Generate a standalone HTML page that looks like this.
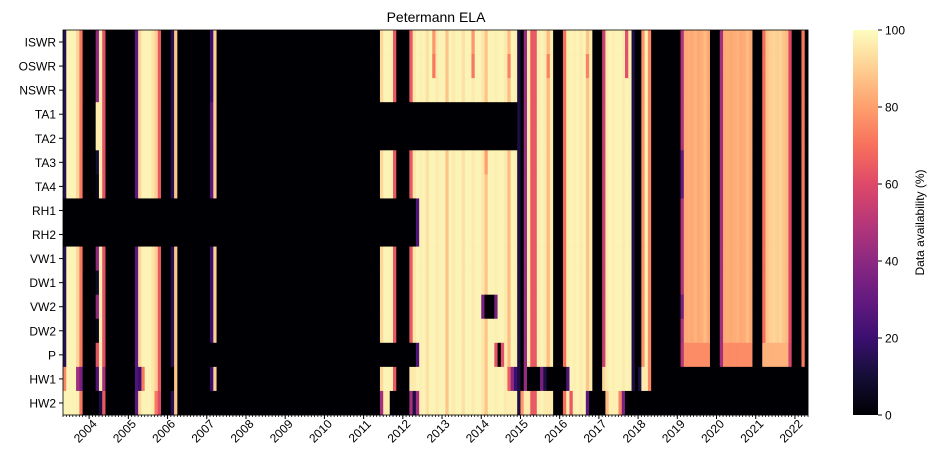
<!DOCTYPE html>
<html><head><meta charset="utf-8">
<style>
html,body{margin:0;padding:0;background:#fff;}
svg{display:block;font-family:"Liberation Sans","DejaVu Sans",sans-serif;}
</style></head>
<body>
<svg id="chart" width="938" height="470" viewBox="0 0 938 470" xmlns="http://www.w3.org/2000/svg">
<text x="436" y="22" font-size="14" text-anchor="middle" fill="#000">Petermann ELA</text>
<g id="cells"></g>
<g id="axes"></g>
<defs><linearGradient id="cbg" x1="0" y1="1" x2="0" y2="0"></linearGradient></defs>
<g id="cbar"></g>
</svg>
<script>
const rowLabels = ["ISWR","OSWR","NSWR","TA1","TA2","TA3","TA4","RH1","RH2","VW1","DW1","VW2","DW2","P","HW1","HW2"];
const startYear = 2003, startMonth = 5; // first column = May 2003
const yearTicks = [2004,2005,2006,2007,2008,2009,2010,2011,2012,2013,2014,2015,2016,2017,2018,2019,2020,2021,2022];
const cbarTicks = [0,20,40,60,80,100];
// base monthly availability (%) shared by most variables
const baseMonths = [
15,98,98,98,92,72,0,0,0,0,40,96,62,0,0,0,0,0,0,0,0,0,28,92,98,98,98,95,90,64,0,0,0,15,88,0,0,0,0,0,0,0,0,0,0,20,90,
0,0,0,0,0,0,0,0,0,0,0,0,0,0,0,0,0,0,0,0,0,0,0,0,0,0,0,0,0,0,0,0,0,0,0,0,0,0,0,0,0,0,0,0,0,0,0,0,0,0,
92,98,98,97,64,0,0,0,0,64,
95,98,97,98,94,98,98,96,98,98,88,98,96,98,98,94,98,98,96,98,98,95,88,98,98,97,98,98,96,86,98,97,
12,0,42,96,64,64,97,98,96,86,96,0,0,0,70,96,98,97,98,96,98,88,96,0,0,0,55,
96,98,97,98,98,96,98,97,12,0,0,78,97,76,0,0,0,0,0,0,0,0,0,48,
82,83,82,84,82,83,86,82,0,0,0,45,82,83,82,83,84,82,83,86,82,0,0,0,70,88,90,91,90,91,88,86,60,0,0,0,72,0
];
// per-variable overrides: [row, firstMonthIndex, lastMonthIndex, value]
const overrides = [
[0,113,113,78],[0,125,125,78],[0,172,172,62],
[1,113,113,72],[1,125,125,72],[1,136,136,74],[1,148,148,74],[1,160,160,74],[1,172,172,62],
[3,10,10,96],[3,45,45,28],[3,97,138,0],
[4,10,10,96],[4,45,45,28],[4,97,138,0],
[5,10,10,10],[5,45,45,28],[5,129,129,80],[5,189,189,30],
[6,10,10,4],[6,45,45,28],[6,189,189,30],
[7,0,107,0],[7,108,108,25],
[8,0,107,0],[8,108,108,25],
[10,10,10,8],
[11,128,128,35],[11,129,131,0],[11,132,132,35],[11,189,189,35],
[12,10,10,4],
[13,10,10,62],[13,45,46,0],[13,97,107,0],[13,108,108,25],[13,132,132,62],[13,133,133,0],[13,134,134,62],
[13,189,189,50],[13,190,197,76],[13,202,210,76],[13,214,221,84],[13,222,222,58],
[14,0,0,75],[14,4,4,45],[14,5,5,35],[14,10,10,25],[14,12,12,45],[14,22,22,25],[14,23,23,20],[14,24,24,72],[14,33,33,0],
[14,106,107,96],[14,136,136,65],[14,137,137,40],[14,138,138,20],[14,139,139,12],[14,140,140,0],[14,141,141,42],
[14,142,145,0],[14,146,146,35],[14,147,147,12],[14,148,153,0],[14,154,154,25],[14,165,165,92],
[14,174,174,12],[14,175,175,0],[14,176,176,12],[14,177,178,96],[14,179,179,75],[14,180,227,0],
[15,0,0,98],[15,4,4,98],[15,10,10,0],[15,11,11,12],[15,12,12,64],[15,27,27,96],[15,28,28,72],[15,29,29,60],
[15,45,46,0],[15,97,97,45],[15,98,99,96],[15,100,105,0],[15,106,106,45],[15,107,107,12],[15,108,108,45],
[15,136,138,97],[15,139,139,12],[15,140,140,78],[15,141,142,96],[15,148,148,96],[15,155,155,64],
[15,160,160,28],[15,161,165,0],[15,166,166,86],[15,167,169,97],[15,170,170,75],[15,171,171,35],[15,172,227,0]
];

const NS="http://www.w3.org/2000/svg";
const plotL=63, plotR=808, plotT=30, plotB=415;
const nCols=baseMonths.length, nRows=rowLabels.length;
const cw=(plotR-plotL)/nCols, rh=(plotB-plotT)/nRows;
const xScale=i=>plotL+i*cw;
const yScale=r=>plotT+r*rh;
const magma=[[0,0,0,4],[0.1,20,14,54],[0.2,59,15,112],[0.3,100,26,128],[0.4,140,41,129],[0.5,183,55,121],[0.6,222,73,104],[0.7,247,112,92],[0.8,254,159,109],[0.9,254,207,146],[1,252,253,191]];
function cmap(v){const t=Math.max(0,Math.min(1,v/100));for(let k=1;k<magma.length;k++){if(t<=magma[k][0]){const a=magma[k-1],b=magma[k],f=(t-a[0])/(b[0]-a[0]);return `rgb(${Math.round(a[1]+f*(b[1]-a[1]))},${Math.round(a[2]+f*(b[2]-a[2]))},${Math.round(a[3]+f*(b[3]-a[3]))})`;}}return "rgb(252,253,191)";}
function mk(tag,attrs,parent){const e=document.createElementNS(NS,tag);for(const k in attrs)e.setAttribute(k,attrs[k]);parent.appendChild(e);return e;}

// build grid
const grid=rowLabels.map(()=>baseMonths.slice());
overrides.forEach(o=>{for(let i=o[1];i<=o[2];i++)grid[o[0]][i]=o[3];});
const cells=document.getElementById('cells');
mk('rect',{x:plotL,y:plotT,width:plotR-plotL,height:plotB-plotT,fill:'#000004'},cells);
grid.forEach((row,r)=>{row.forEach((v,i)=>{
  const c=mk('rect',{x:xScale(i).toFixed(2),y:yScale(r).toFixed(2),width:(cw+0.35).toFixed(2),height:(rh+0.35).toFixed(2),fill:cmap(v)},cells);
  
  
});});

// axes
const axes=document.getElementById('axes');
rowLabels.forEach((lab,r)=>{
  const yc=yScale(r)+rh/2;
  mk('line',{x1:plotL-4,x2:plotL,y1:yc,y2:yc,stroke:'#000','stroke-width':1},axes);
  const t=mk('text',{x:plotL-7,y:yc+4.5,'font-size':12,'text-anchor':'end',fill:'#000'},axes);
  t.textContent=lab;
  
  
});
for(let i=0;i<=nCols;i++){
  mk('line',{x1:xScale(i),x2:xScale(i),y1:plotB,y2:plotB+2,stroke:'#000','stroke-width':0.8},axes);
}
yearTicks.forEach(y=>{
  const idx=(y-startYear)*12-(startMonth-1);
  const x=xScale(idx);
  mk('line',{x1:x,x2:x,y1:plotB,y2:plotB+4,stroke:'#000','stroke-width':1},axes);
  const t=mk('text',{x:0,y:0,'font-size':12,'text-anchor':'middle',fill:'#000',transform:`translate(${x-1},${plotB+19}) rotate(-45)`},axes);
  t.textContent=String(y);
  
  
});
mk('rect',{x:plotL,y:plotT,width:plotR-plotL,height:plotB-plotT,fill:'none',stroke:'#000','stroke-width':0.8},axes);

// colorbar
const grad=document.getElementById('cbg');
for(let k=0;k<=20;k++){mk('stop',{offset:(k/20),'stop-color':cmap(k*5)},grad);}
const cb=document.getElementById('cbar');
const cbL=853,cbR=878;
const cbY=v=>plotB-(v/100)*(plotB-plotT);
const cbRect=mk('rect',{x:cbL,y:plotT,width:cbR-cbL,height:plotB-plotT,fill:'url(#cbg)'},cb);


cbarTicks.forEach(v=>{
  const y=cbY(v);
  mk('line',{x1:cbR,x2:cbR+4,y1:y,y2:y,stroke:'#000','stroke-width':1},cb);
  const t=mk('text',{x:cbR+7,y:y+4.5,'font-size':12,fill:'#000'},cb);
  t.textContent=String(v);
  
  
});
const cl=mk('text',{x:0,y:0,'font-size':12,'text-anchor':'middle',fill:'#000',transform:`translate(924,${(plotT+plotB)/2}) rotate(-90)`},cb);
cl.textContent='Data availability (%)';


</script>
</body></html>
